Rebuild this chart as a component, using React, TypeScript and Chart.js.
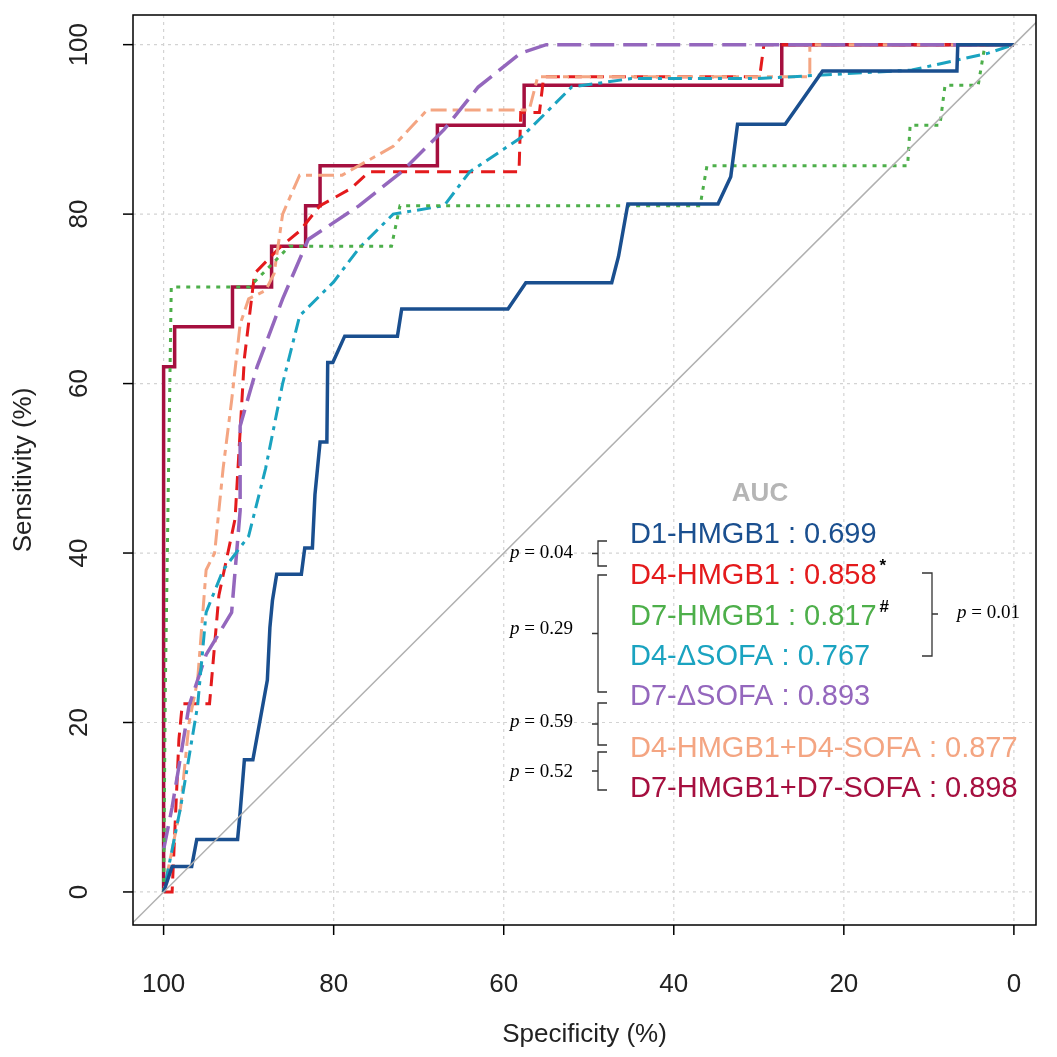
import React, { useEffect, useRef } from "react";
import { Chart, registerables } from "chart.js";
Chart.register(...registerables);

type P = [number, number];
const d1Hmgb1: P[] = [[100,0],[99,3],[96.7,3],[96.1,6.2],[91.3,6.2],[91,9.4],[90.5,15.6],[89.5,15.6],[87.8,25],[87.5,31.2],[87.2,34.4],[86.7,37.5],[83.8,37.5],[83.4,40.6],[82.5,40.6],[82.2,46.9],[81.9,50],[81.6,53.1],[80.8,53.1],[80.7,62.5],[80.1,62.5],[78.7,65.6],[72.5,65.6],[72,68.8],[59.5,68.8],[57.4,71.9],[47.3,71.9],[46.5,75],[45.4,81.2],[34.8,81.2],[33.3,84.4],[32.5,90.6],[26.9,90.6],[22.5,96.9],[6.7,96.9],[6.6,100],[0,100]];
const d4Hmgb1: P[] = [[100,0],[99,0],[98.2,18],[97.8,22.2],[94.6,22.2],[93.5,35],[91.6,44],[90.5,63],[89.3,73],[86.4,76],[84,78],[81.6,81],[78,83],[75.8,85],[58.2,85],[58,92],[55.8,92],[55.3,96.2],[29.9,96.2],[29.4,100],[0,100]];
const d7Hmgb1: P[] = [[100,0],[99.8,24],[99.1,71.4],[89.9,71.4],[85.2,76.2],[73.2,76.2],[72.2,81],[36.9,81],[36.1,85.7],[12.5,85.7],[12.2,90.5],[8.7,90.5],[8.1,95.2],[4.2,95.2],[3.4,100],[0,100]];
const d4Sofa: P[] = [[100,0],[98,10],[96,22],[95,33],[93,38],[90,42],[88,50],[86,60],[84,68],[80,72],[77,76],[73,80],[67,81],[64,85],[58,89],[52,95],[45,96],[30,96],[12,97],[3,99],[0,100]];
const d7Sofa: P[] = [[100,5],[99,10],[97,22],[95,28],[92,33],[91,45],[91,55],[89,62],[86,70],[83,77],[77,81],[72,85],[67,90],[63,95],[58,99],[55,100],[0,100]];
const d4Combo: P[] = [[100,0],[98,10],[97,20],[96,25],[95,38],[94,40],[93,50],[92,58],[91,67],[90,70],[88,71],[87,73],[86,80],[84,84.6],[79,84.6],[73,88],[69,92.3],[57,92.3],[56,96.2],[24,96.2],[24,100],[0,100]];
const d7Combo: P[] = [[100,0],[100,62],[98.7,62],[98.7,66.7],[91.9,66.7],[91.9,71.4],[87.3,71.4],[87.3,76.2],[83.3,76.2],[83.3,81],[81.6,81],[81.6,85.7],[67.8,85.7],[67.8,90.5],[57.6,90.5],[57.6,95.2],[27.3,95.2],[27.3,100],[0,100]];
const xTicks = [100, 80, 60, 40, 20, 0];
const yTicks = [0, 20, 40, 60, 80, 100];
const legendNames = ["D1-HMGB1", "D4-HMGB1", "D7-HMGB1", "D4-ΔSOFA", "D7-ΔSOFA", "D4-HMGB1+D4-SOFA", "D7-HMGB1+D7-SOFA"];
const aucValues = ["0.699", "0.858", "0.817", "0.767", "0.893", "0.877", "0.898"];
const colors = ["#1a4f8f", "#e41a1c", "#4daf4a", "#1aa3c0", "#9467bd", "#f4a582", "#a50f3f"];

export default function App() {
  const ref = useRef<HTMLCanvasElement>(null);
  useEffect(() => {
    document.body.style.margin = "0";
    const series = [d1Hmgb1, d4Hmgb1, d7Hmgb1, d4Sofa, d7Sofa, d4Combo, d7Combo];
    const dashes = [[], [14, 8], [4, 6], [4, 6, 14, 6], [24, 9], [6, 6, 16, 6], []];
    const widths = [3.5, 3, 3, 3, 3.5, 3, 3.5];
    const order = [0, 2, 3, 4, 5, 1, 6];
    const ds: any[] = [{ data: [{ x: 110, y: -10 }, { x: -10, y: 110 }], borderColor: "#b0b0b0", borderWidth: 1.5, pointRadius: 0 }];
    order.forEach((i) => ds.push({ data: series[i].map(([x, y]) => ({ x, y })), borderColor: colors[i], borderWidth: widths[i], borderDash: dashes[i], pointRadius: 0, tension: 0 }));
    const font = "Liberation Sans, Arial, sans-serif";
    const plug = {
      id: "deco",
      beforeDatasetsDraw(c: any) {
        const { ctx, chartArea: a, scales } = c;
        ctx.save();
        ctx.strokeStyle = "#d3d3d3"; ctx.lineWidth = 1.2; ctx.setLineDash([3, 4]);
        xTicks.forEach((t) => { const x = scales.x.getPixelForValue(t); ctx.beginPath(); ctx.moveTo(x, a.top); ctx.lineTo(x, a.bottom); ctx.stroke(); });
        yTicks.forEach((t) => { const y = scales.y.getPixelForValue(t); ctx.beginPath(); ctx.moveTo(a.left, y); ctx.lineTo(a.right, y); ctx.stroke(); });
        ctx.restore();
      },
      afterDatasetsDraw(c: any) {
        const { ctx, chartArea: a, scales } = c;
        ctx.save();
        ctx.strokeStyle = "#000"; ctx.lineWidth = 1.5;
        ctx.strokeRect(a.left, a.top, a.right - a.left, a.bottom - a.top);
        ctx.fillStyle = "#222"; ctx.font = `26px ${font}`;
        ctx.textAlign = "center"; ctx.textBaseline = "middle";
        xTicks.forEach((t) => { const x = scales.x.getPixelForValue(t); ctx.beginPath(); ctx.moveTo(x, a.bottom); ctx.lineTo(x, a.bottom + 10); ctx.stroke(); ctx.fillText(String(t), x, 985); });
        yTicks.forEach((t) => { const y = scales.y.getPixelForValue(t); ctx.beginPath(); ctx.moveTo(a.left, y); ctx.lineTo(a.left - 10, y); ctx.stroke();
          ctx.save(); ctx.translate(80, y); ctx.rotate(-Math.PI / 2); ctx.fillText(String(t), 0, 0); ctx.restore(); });
        ctx.fillText("Specificity (%)", (a.left + a.right) / 2, 1035);
        ctx.save(); ctx.translate(24, (a.top + a.bottom) / 2); ctx.rotate(-Math.PI / 2); ctx.fillText("Sensitivity (%)", 0, 0); ctx.restore();
        ctx.font = `bold 26px ${font}`; ctx.fillStyle = "#b5b5b5"; ctx.fillText("AUC", 760, 494);
        const ys = [535, 576, 617, 657, 697, 749, 789];
        ctx.textAlign = "left"; const lf = `29px ${font}`; ctx.font = lf;
        legendNames.forEach((n, i) => { ctx.fillStyle = colors[i]; const s = `${n} : ${aucValues[i]}`; ctx.fillText(s, 630, ys[i]);
          const w = ctx.measureText(s).width; ctx.fillStyle = "#000"; ctx.font = `bold 17px ${font}`;
          if (i === 1) ctx.fillText("*", 630 + w + 3, ys[i] - 10);
          if (i === 2) ctx.fillText("#", 630 + w + 3, ys[i] - 10);
          ctx.font = lf; });
        ctx.strokeStyle = "#333"; ctx.lineWidth = 1.3;
        const lb = (y1: number, y2: number) => { ctx.beginPath(); ctx.moveTo(607, y1); ctx.lineTo(598, y1); ctx.lineTo(598, y2); ctx.lineTo(607, y2);
          ctx.moveTo(598, (y1 + y2) / 2); ctx.lineTo(592, (y1 + y2) / 2); ctx.stroke(); };
        lb(541, 566); lb(575, 692); lb(703, 745); lb(752, 790);
        ctx.beginPath(); ctx.moveTo(922, 573); ctx.lineTo(932, 573); ctx.lineTo(932, 656); ctx.lineTo(922, 656); ctx.moveTo(932, 614); ctx.lineTo(938, 614); ctx.stroke();
        const pt = (x: number, y: number, v: string) => { ctx.fillStyle = "#000"; ctx.font = "italic 19px Liberation Serif, serif"; ctx.fillText("p", x, y);
          const w = ctx.measureText("p").width; ctx.font = "19px Liberation Serif, serif"; ctx.fillText(` = ${v}`, x + w, y); };
        pt(510, 553, "0.04"); pt(510, 629, "0.29"); pt(510, 722, "0.59"); pt(510, 772, "0.52"); pt(957, 613, "0.01");
        ctx.restore();
      },
    };
    const chart = new Chart(ref.current!, {
      type: "line",
      data: { datasets: ds },
      options: {
        animation: false, responsive: false, maintainAspectRatio: false,
        layout: { padding: { left: 133, top: 15, right: 21, bottom: 132 } },
        plugins: { legend: { display: false }, tooltip: { enabled: false } },
        scales: {
          x: { type: "linear", reverse: true, min: -2.6, max: 103.6, display: false },
          y: { type: "linear", min: -3.9, max: 103.5, display: false },
        },
      },
      plugins: [plug],
    });
    return () => chart.destroy();
  }, []);
  return <canvas ref={ref} width={1057} height={1057} style={{ display: "block", width: 1057, height: 1057 }} />;
}
